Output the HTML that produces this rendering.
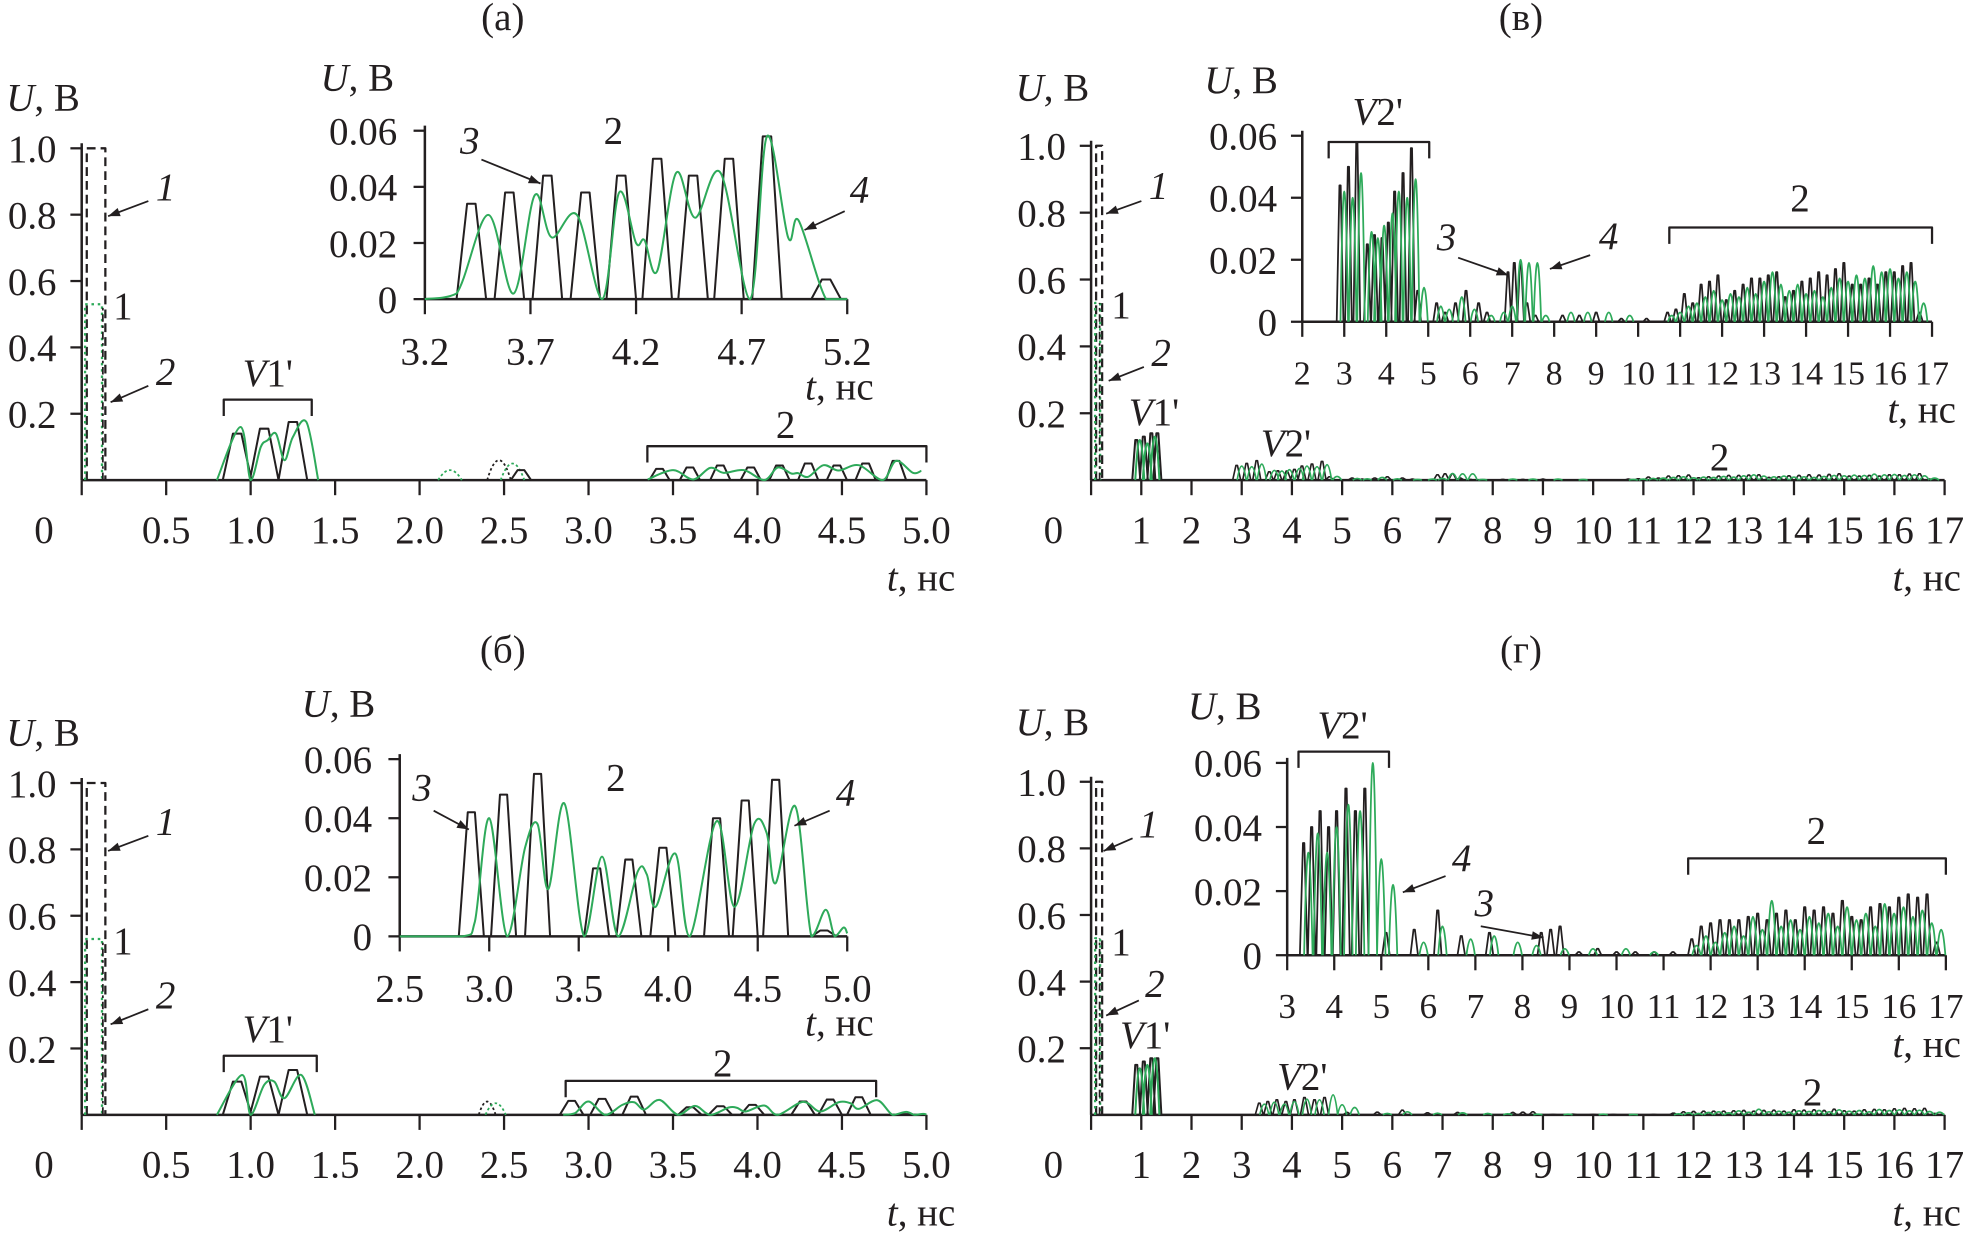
<!DOCTYPE html>
<html><head><meta charset="utf-8">
<style>
html,body{margin:0;padding:0;background:#fff;}
svg{display:block;}
text{font-family:"Liberation Serif","DejaVu Serif",serif;fill:#231f20;}
</style></head>
<body>
<svg id="fig" width="1971" height="1238" viewBox="0 0 1568 985" preserveAspectRatio="none" xmlns="http://www.w3.org/2000/svg"></svg>
<script>
// ---------- DATA ----------
const aBlackT=[3.42,3.6,3.78,3.96,4.13,4.3,4.47,4.64,4.82,5.1];
const aBlackV=[0.034,0.038,0.044,0.038,0.044,0.05,0.044,0.05,0.058,0.007];
const aGreenT=[3.2,3.35,3.5,3.62,3.72,3.8,3.92,4.04,4.12,4.2,4.24,4.3,4.39,4.48,4.6,4.74,4.82,4.92,4.97,5.1,5.2];
const aGreenV=[0,0.002,0.03,0.002,0.037,0.022,0.03,0,0.038,0.02,0.021,0.01,0.045,0.029,0.045,0,0.058,0.022,0.028,0,0];
const aV1BlackT=[0.92,1.08,1.25];
const aV1BlackV=[0.14,0.155,0.175];
const aV1GreenT=[0.8,0.94,1.0,1.06,1.1,1.15,1.2,1.25,1.33,1.4];
const aV1GreenV=[0,0.16,0,0.1,0.12,0.14,0.06,0.13,0.175,0];
const bBlackT=[2.9,3.08,3.27,3.6,3.78,3.97,4.27,4.43,4.6,4.87];
const bBlackV=[0.042,0.048,0.055,0.023,0.026,0.03,0.04,0.046,0.053,0.002];
const bGreenT=[2.5,2.85,2.92,3.0,3.1,3.2,3.27,3.33,3.42,3.53,3.63,3.72,3.83,3.88,3.93,4.04,4.12,4.27,4.37,4.48,4.55,4.6,4.71,4.8,4.88,4.93,4.98,5.0];
const bGreenV=[0,0,0.005,0.04,0,0.03,0.038,0.016,0.045,0,0.027,0,0.022,0.021,0.01,0.028,0,0.039,0.01,0.038,0.035,0.018,0.044,0,0.009,0,0.003,0.001];
const bV1BlackT=[0.92,1.08,1.25];
const bV1BlackV=[0.1,0.115,0.135];
const bV1GreenT=[0.8,0.95,1.0,1.08,1.14,1.2,1.3,1.38];
const bV1GreenV=[0,0.12,0,0.09,0.1,0.05,0.12,0];
const vBlackT=[2.9,3.1,3.3,3.55,3.72,3.9,4.05,4.2,4.4,4.6,4.75,5.2,5.4,5.65,5.9,6.2,6.4,6.9,7.05,7.2,7.35,7.55,8.2,8.6,9.0,9.6,10.2,10.7,10.9,11.1,11.3,11.5,11.7,11.9,12.1,12.3,12.5,12.7,12.9,13.1,13.3,13.5,13.7,13.9,14.1,14.3,14.5,14.7,14.9,15.1,15.3,15.5,15.7,15.9,16.1,16.3,16.5,16.7];
const vBlackV=[0.044,0.05,0.058,0.025,0.028,0.027,0.032,0.042,0.048,0.056,0.01,0.006,0.003,0.006,0.01,0.006,0.003,0.016,0.019,0.019,0.006,0.002,0.002,0.002,0.003,0.001,0.001,0.003,0.004,0.009,0.006,0.012,0.013,0.015,0.007,0.01,0.012,0.014,0.014,0.015,0.016,0.008,0.01,0.013,0.014,0.016,0.015,0.017,0.019,0.012,0.012,0.014,0.012,0.016,0.016,0.018,0.019,0.003];
const vGreenT=[3.0,3.2,3.4,3.65,3.8,3.95,4.15,4.3,4.5,4.7,4.9,5.3,5.5,5.8,6.1,6.5,6.8,7.0,7.2,7.4,7.6,7.8,8.4,8.8,9.3,9.8,10.8,11.0,11.2,11.4,11.6,11.8,12.0,12.2,12.4,12.6,12.8,13.0,13.2,13.4,13.6,13.8,14.0,14.2,14.4,14.6,14.8,15.0,15.2,15.4,15.6,15.8,16.0,16.2,16.4,16.6,16.8];
const vGreenV=[0.042,0.04,0.048,0.029,0.027,0.031,0.035,0.042,0.04,0.046,0.011,0.005,0.004,0.008,0.004,0.002,0.003,0.005,0.02,0.019,0.019,0.002,0.003,0.003,0.003,0.002,0.002,0.003,0.005,0.006,0.008,0.01,0.007,0.009,0.008,0.011,0.009,0.013,0.016,0.012,0.01,0.012,0.009,0.01,0.008,0.011,0.014,0.013,0.015,0.014,0.018,0.016,0.017,0.014,0.016,0.013,0.006];
const vV1BlackT=[0.9,1.05,1.2,1.32];
const vV1BlackV=[0.12,0.13,0.14,0.14];
const vV1GreenT=[0.97,1.12,1.27];
const vV1GreenV=[0.12,0.11,0.13];
const gBlackT=[3.35,3.52,3.7,3.88,4.05,4.25,4.45,4.65,5.1,5.7,6.2,6.7,7.3,8.4,8.6,8.8,9.2,9.6,10.0,10.4,10.8,11.2,11.6,11.8,12.0,12.2,12.4,12.6,12.8,13.0,13.2,13.4,13.6,13.8,14.0,14.2,14.4,14.6,14.8,15.0,15.2,15.4,15.6,15.8,16.0,16.2,16.4,16.6,16.8];
const gBlackV=[0.035,0.04,0.045,0.04,0.045,0.052,0.045,0.052,0.007,0.008,0.014,0.006,0.007,0.007,0.008,0.009,0.001,0.002,0.001,0.001,0.001,0.001,0.005,0.009,0.01,0.011,0.011,0.011,0.012,0.013,0.011,0.013,0.014,0.011,0.015,0.014,0.015,0.013,0.017,0.012,0.011,0.015,0.016,0.015,0.018,0.019,0.018,0.019,0.004];
const gGreenT=[3.45,3.65,3.85,4.05,4.3,4.55,4.82,5.0,5.25,5.9,6.3,6.9,7.4,7.9,8.3,8.9,9.5,10.2,10.8,11.7,11.9,12.1,12.3,12.5,12.7,12.9,13.1,13.3,13.5,13.7,13.9,14.1,14.3,14.5,14.7,14.9,15.1,15.3,15.5,15.7,15.9,16.1,16.3,16.5,16.7,16.9];
const gGreenV=[0.032,0.038,0.032,0.04,0.047,0.045,0.06,0.03,0.022,0.004,0.009,0.005,0.006,0.004,0.003,0.002,0.002,0.002,0.001,0.003,0.006,0.004,0.007,0.009,0.006,0.012,0.008,0.017,0.009,0.011,0.008,0.012,0.01,0.013,0.009,0.015,0.011,0.013,0.009,0.016,0.013,0.015,0.012,0.014,0.01,0.008];
const gV1BlackT=[0.9,1.05,1.2,1.32];
const gV1BlackV=[0.15,0.16,0.17,0.17];
const gV1GreenT=[0.97,1.12,1.27];
const gV1GreenV=[0.14,0.15,0.17];
const pulse1V=1.0, pulse2V=0.53;
const mainTicksA=["0","0.5","1.0","1.5","2.0","2.5","3.0","3.5","4.0","4.5","5.0"];
const mainYTicks=["0.2","0.4","0.6","0.8","1.0"];
const insetYTicks=["0","0.02","0.04","0.06"];
const insetTicksA=["3.2","3.7","4.2","4.7","5.2"];
const insetTicksB=["2.5","3.0","3.5","4.0","4.5","5.0"];

// ---------- DRAW ----------
const NS="http://www.w3.org/2000/svg";
const svg=document.getElementById('fig');
const BLACK="#231f20", GREEN="#2eaa5a";
const FS=31;
function add(tag,attrs,name,parent){
  const el=document.createElementNS(NS,tag);
  for(const k in attrs) el.setAttribute(k,attrs[k]);
  
  
  (parent||svg).appendChild(el);return el;
}
function txt(x,y,s,name,opt){
  opt=opt||{};
  const t=add('text',{x:x,y:y,'font-size':opt.size||FS,'text-anchor':opt.anchor||'start','font-style':opt.italic?'italic':'normal'},name);
  t.innerHTML=s;return t;
}
function axisFn(P){
  return {sx:t=>P.x0+(t-P.t0)/(P.t1-P.t0)*(P.x1-P.x0), sy:v=>P.yb-v/P.vmax*(P.yb-P.yt)};
}
function trapPath(P,T,V,bw,tw){
  const a=axisFn(P);let d="";
  T.forEach((t,i)=>{d+=`M${a.sx(t-bw)},${a.sy(0)}L${a.sx(t-tw)},${a.sy(V[i])}L${a.sx(t+tw)},${a.sy(V[i])}L${a.sx(t+bw)},${a.sy(0)}`;});
  return d;
}
function spikePath(P,T,V,bw){
  const a=axisFn(P);let d="";
  T.forEach((t,i)=>{d+=`M${a.sx(t-bw)},${a.sy(0)}Q${a.sx(t)},${a.sy(2*V[i])} ${a.sx(t+bw)},${a.sy(0)}`;});
  return d;
}
function smoothPath(P,T,V){
  const a=axisFn(P);const p=T.map((t,i)=>[a.sx(t),a.sy(V[i])]);
  let d=`M${p[0][0]},${p[0][1]}`;
  for(let i=0;i<p.length-1;i++){
    const p0=p[i-1]||p[i],p1=p[i],p2=p[i+1],p3=p[i+2]||p2;
    d+=`C${p1[0]+(p2[0]-p0[0])/6},${Math.min(P.yb,p1[1]+(p2[1]-p0[1])/6)} ${p2[0]-(p3[0]-p1[0])/6},${Math.min(P.yb,p2[1]-(p3[1]-p1[1])/6)} ${p2[0]},${p2[1]}`;
  }
  return d;
}
function line(d,color,name,w,dash){
  const o={d:d,fill:'none',stroke:color,'stroke-width':w||1.6,'stroke-linejoin':'round'};
  if(dash)o['stroke-dasharray']=dash;
  add('path',o,name);
}
function axes(P,labels,name,tickStep,labelY,xLabOff,lsize){
  const a=axisFn(P);
  line(`M${P.x0},${P.yb}L${P.x1},${P.yb}`,BLACK,name+'-x-axis',2);
  line(`M${P.x0},${P.yb}L${P.x0},${P.yt-4}`,BLACK,name+'-y-axis',2);
  labels.forEach((s,i)=>{
    const t=P.t0+i*tickStep;const x=a.sx(t);
    line(`M${x},${P.yb}L${x},${P.yb+12}`,BLACK,name+'-x-tick',1.8);
    txt(x+((i===0&&xLabOff)?xLabOff:0),labelY,s,name+'-x-tick-label',{anchor:'middle',size:lsize});
  });
}
function yaxis(P,labels,vals,name,lx){
  const a=axisFn(P);
  labels.forEach((s,i)=>{
    const y=a.sy(vals[i]);
    line(`M${P.x0-9},${y}L${P.x0},${y}`,BLACK,name+'-y-tick',1.8);
    txt(lx,y+11,s,name+'-y-tick-label',{anchor:'end'});
  });
}
function bracket(x1,x2,y,name){line(`M${x1},${y+13}L${x1},${y}L${x2},${y}L${x2},${y+13}`,BLACK,name,1.8);}
function arrow(x1,y1,x2,y2,name){
  line(`M${x1},${y1}L${x2},${y2}`,BLACK,name,1.4);
  const ang=Math.atan2(y2-y1,x2-x1),L=10;
  const p=`M${x2},${y2}L${x2-L*Math.cos(ang-0.35)},${y2-L*Math.sin(ang-0.35)}L${x2-L*Math.cos(ang+0.35)},${y2-L*Math.sin(ang+0.35)}Z`;
  add('path',{d:p,fill:BLACK},name+'-head');
}
function pulses(P,w1a,w1b,w2a,w2b,name){
  const a=axisFn(P);
  line(`M${a.sx(w1a)},${a.sy(0)}L${a.sx(w1a)},${a.sy(pulse1V)}L${a.sx(w1b)},${a.sy(pulse1V)}L${a.sx(w1b)},${a.sy(0)}`,BLACK,name+'-curve-1',1.8,'7,4');
  line(`M${a.sx(w2a)},${a.sy(0)}L${a.sx(w2a)},${a.sy(pulse2V)}L${a.sx(w2b)},${a.sy(pulse2V)}L${a.sx(w2b)},${a.sy(0)}`,GREEN,name+'-green-pulse',1.8,'2,3');
  line(`M${a.sx(w1b)-2},${a.sy(0)}L${a.sx(w1b)-2},${a.sy(pulse2V)}`,BLACK,name+'-curve-2',1.4,'6,3,2,3');
}

const PA={x0:65,x1:737,t0:0,t1:5,yb:382,yt:118,vmax:1};
const PAi={x0:338,x1:674,t0:3.2,t1:5.2,yb:238,yt:104,vmax:0.06};
const PB={x0:65,x1:737,t0:0,t1:5,yb:887,yt:623,vmax:1};
const PBi={x0:318,x1:674,t0:2.5,t1:5.0,yb:745,yt:604,vmax:0.06};
const PV={x0:868,x1:1547,t0:0,t1:17,yb:382,yt:116,vmax:1};
const PVi={x0:1036,x1:1537,t0:2,t1:17,yb:256,yt:108,vmax:0.06};
const PG={x0:868,x1:1547,t0:0,t1:17,yb:887,yt:622,vmax:1};
const PGi={x0:1024,x1:1548,t0:3,t1:17,yb:760,yt:607,vmax:0.06};

function mainPanel(P,name,labels,step,labY){
  axes(P,labels,name,step,labY,-30);
  yaxis(P,mainYTicks,[0.2,0.4,0.6,0.8,1.0],name,P.x0-20);
}
function insetPanel(P,name,labels,step,labY,lx,lsize){
  axes(P,labels,name,step,labY,0,lsize);
  yaxis(P,insetYTicks,[0,0.02,0.04,0.06],name,lx);
}
const intLabels=(a,b)=>{const r=[];for(let i=a;i<=b;i++)r.push(String(i));return r;};

// (a)
txt(400,24,"(а)","title-a",{anchor:'middle'});
mainPanel(PA,'panel-a',mainTicksA,0.5,432);
txt(5,88,"<tspan font-style='italic'>U</tspan>, В","panel-a-y-title");
txt(760,470,"<tspan font-style='italic'>t</tspan>, нс","panel-a-x-title",{anchor:'end'});
pulses(PA,0.03,0.14,0.02,0.12,'panel-a');
line(trapPath(PA,aV1BlackT,aV1BlackV,0.085,0.025),BLACK,'panel-a-v1-black');
line(smoothPath(PA,aV1GreenT,aV1GreenV),GREEN,'panel-a-v1-green');
line(trapPath(PA,aBlackT.slice(0,9),aBlackV.slice(0,9),0.06,0.02),BLACK,'panel-a-region2-black');
line(smoothPath(PA,aGreenT.slice(1,19),aGreenV.slice(1,19)),GREEN,'panel-a-region2-green');
line(spikePath(PA,[2.47],[0.06],0.07),BLACK,'panel-a-dotted-black',1.4,'2,2');
line(spikePath(PA,[2.18,2.55],[0.03,0.05],0.07),GREEN,'panel-a-dotted-green',1.4,'2,2');
line(trapPath(PA,[2.6],[0.03],0.06,0.02),BLACK,'panel-a-small-black');
txt(124,159,"1","label-1-a",{italic:true});arrow(118,160,86,172,'arrow-1-a');
txt(90,254,"1","label-1-green-a");
txt(124,306,"2","label-2-a",{italic:true});arrow(118,307,88,320,'arrow-2-a');
bracket(178,248,318,'bracket-v1-a');txt(193,307,"<tspan font-style='italic'>V</tspan>1'","label-v1-a");
bracket(515,737,355,'bracket-2-a');txt(625,348,"2","label-2-region-a",{anchor:'middle'});
insetPanel(PAi,'inset-a',insetTicksA,0.5,290,316);
txt(255,72,"<tspan font-style='italic'>U</tspan>, В","inset-a-y-title");
txt(695,318,"<tspan font-style='italic'>t</tspan>, нс","inset-a-x-title",{anchor:'end'});
line(trapPath(PAi,aBlackT,aBlackV,0.07,0.02),BLACK,'inset-a-curve-3');
line(smoothPath(PAi,aGreenT,aGreenV),GREEN,'inset-a-curve-4');
txt(366,122,"3","label-3-a",{italic:true});arrow(383,127,430,146,'arrow-3-a');
txt(488,114,"2","label-2-inset-a",{anchor:'middle'});
txt(676,161,"4","label-4-a",{italic:true});arrow(672,168,640,183,'arrow-4-a');

// (б)
txt(400,527,"(б)","title-b",{anchor:'middle'});
mainPanel(PB,'panel-b',mainTicksA,0.5,937);
txt(5,593,"<tspan font-style='italic'>U</tspan>, В","panel-b-y-title");
txt(760,975,"<tspan font-style='italic'>t</tspan>, нс","panel-b-x-title",{anchor:'end'});
pulses(PB,0.03,0.14,0.02,0.12,'panel-b');
line(trapPath(PB,bV1BlackT,bV1BlackV,0.085,0.025),BLACK,'panel-b-v1-black');
line(smoothPath(PB,bV1GreenT,bV1GreenV),GREEN,'panel-b-v1-green');
line(trapPath(PB,bBlackT,bBlackV,0.07,0.02),BLACK,'panel-b-region2-black');
line(smoothPath(PB,bGreenT.slice(1),bGreenV.slice(1)),GREEN,'panel-b-region2-green');
line(spikePath(PB,[2.4],[0.04],0.05),BLACK,'panel-b-dotted-black',1.4,'2,2');
line(spikePath(PB,[2.45],[0.035],0.06),GREEN,'panel-b-dotted-green',1.4,'2,2');
txt(124,664,"1","label-1-b",{italic:true});arrow(118,665,86,677,'arrow-1-b');
txt(90,759,"1","label-1-green-b");
txt(124,802,"2","label-2-b",{italic:true});arrow(118,803,88,815,'arrow-2-b');
bracket(178,252,840,'bracket-v1-b');txt(193,829,"<tspan font-style='italic'>V</tspan>1'","label-v1-b");
bracket(450,697,860,'bracket-2-b');txt(575,856,"2","label-2-region-b",{anchor:'middle'});
insetPanel(PBi,'inset-b',insetTicksB,0.5,797,296);
txt(240,570,"<tspan font-style='italic'>U</tspan>, В","inset-b-y-title");
txt(695,824,"<tspan font-style='italic'>t</tspan>, нс","inset-b-x-title",{anchor:'end'});
line(trapPath(PBi,bBlackT,bBlackV,0.07,0.02),BLACK,'inset-b-curve-3');
line(smoothPath(PBi,bGreenT,bGreenV),GREEN,'inset-b-curve-4');
txt(328,637,"3","label-3-b",{italic:true});arrow(345,645,373,660,'arrow-3-b');
txt(490,629,"2","label-2-inset-b",{anchor:'middle'});
txt(665,641,"4","label-4-b",{italic:true});arrow(660,645,632,657,'arrow-4-b');

// (в)
txt(1210,24,"(в)","title-v",{anchor:'middle'});
mainPanel(PV,'panel-v',intLabels(0,17),1,432);
txt(808,80,"<tspan font-style='italic'>U</tspan>, В","panel-v-y-title");
txt(1560,470,"<tspan font-style='italic'>t</tspan>, нс","panel-v-x-title",{anchor:'end'});
pulses(PV,0.1,0.22,0.08,0.18,'panel-v');
line(trapPath(PV,vV1BlackT,vV1BlackV,0.08,0.02),BLACK,'panel-v-v1-black');
line(spikePath(PV,vV1GreenT,vV1GreenV,0.09),GREEN,'panel-v-v1-green');
line(trapPath(PV,vBlackT,vBlackV,0.08,0.015),BLACK,'panel-v-black',1.3);
line(spikePath(PV,vGreenT,vGreenV,0.09),GREEN,'panel-v-green',1.3);
txt(914,158,"1","label-1-v",{italic:true});arrow(908,160,880,170,'arrow-1-v');
txt(884,253,"1","label-1-green-v");
txt(916,291,"2","label-2-v",{italic:true});arrow(910,292,882,303,'arrow-2-v');
txt(898,338,"<tspan font-style='italic'>V</tspan>1'","label-v1-v");
txt(1003,363,"<tspan font-style='italic'>V</tspan>2'","label-v2-v");
txt(1368,374,"2","label-2-region-v",{anchor:'middle'});
insetPanel(PVi,'inset-v',intLabels(2,17),1,306,1016,27);
txt(958,74,"<tspan font-style='italic'>U</tspan>, В","inset-v-y-title");
txt(1556,336,"<tspan font-style='italic'>t</tspan>, нс","inset-v-x-title",{anchor:'end'});
line(trapPath(PVi,vBlackT,vBlackV,0.08,0.015),BLACK,'inset-v-curve-3',1.4);
line(spikePath(PVi,vGreenT,vGreenV,0.09),GREEN,'inset-v-curve-4',1.4);
bracket(1057,1137,113,'bracket-v2-v');txt(1076,99,"<tspan font-style='italic'>V</tspan>2'","label-v2-inset-v");
txt(1143,199,"3","label-3-v",{italic:true});arrow(1160,205,1200,219,'arrow-3-v');
txt(1272,198,"4","label-4-v",{italic:true});arrow(1265,203,1233,214,'arrow-4-v');
bracket(1328,1537,181,'bracket-2-v');txt(1432,168,"2","label-2-inset-v",{anchor:'middle'});

// (г)
txt(1210,527,"(г)","title-g",{anchor:'middle'});
mainPanel(PG,'panel-g',intLabels(0,17),1,937);
txt(808,585,"<tspan font-style='italic'>U</tspan>, В","panel-g-y-title");
txt(1560,975,"<tspan font-style='italic'>t</tspan>, нс","panel-g-x-title",{anchor:'end'});
pulses(PG,0.1,0.22,0.08,0.18,'panel-g');
line(trapPath(PG,gV1BlackT,gV1BlackV,0.08,0.02),BLACK,'panel-g-v1-black');
line(spikePath(PG,gV1GreenT,gV1GreenV,0.09),GREEN,'panel-g-v1-green');
line(trapPath(PG,gBlackT,gBlackV,0.08,0.015),BLACK,'panel-g-black',1.3);
line(spikePath(PG,gGreenT,gGreenV,0.09),GREEN,'panel-g-green',1.3);
txt(906,666,"1","label-1-g",{italic:true});arrow(901,667,878,677,'arrow-1-g');
txt(884,760,"1","label-1-green-g");
txt(911,793,"2","label-2-g",{italic:true});arrow(906,796,880,808,'arrow-2-g');
txt(891,834,"<tspan font-style='italic'>V</tspan>1'","label-v1-g");
txt(1016,867,"<tspan font-style='italic'>V</tspan>2'","label-v2-g");
txt(1442,879,"2","label-2-region-g",{anchor:'middle'});
insetPanel(PGi,'inset-g',intLabels(3,17),1,810,1004,28);
txt(945,572,"<tspan font-style='italic'>U</tspan>, В","inset-g-y-title");
txt(1560,841,"<tspan font-style='italic'>t</tspan>, нс","inset-g-x-title",{anchor:'end'});
line(trapPath(PGi,gBlackT,gBlackV,0.08,0.015),BLACK,'inset-g-curve-3',1.4);
line(spikePath(PGi,gGreenT,gGreenV,0.09),GREEN,'inset-g-curve-4',1.4);
bracket(1033,1105,598,'bracket-v2-g');txt(1048,587,"<tspan font-style='italic'>V</tspan>2'","label-v2-inset-g");
txt(1155,693,"4","label-4-g",{italic:true});arrow(1150,697,1116,710,'arrow-4-g');
txt(1173,729,"3","label-3-g",{italic:true});arrow(1178,737,1228,746,'arrow-3-g');
bracket(1343,1548,683,'bracket-2-g');txt(1445,671,"2","label-2-inset-g",{anchor:'middle'});
</script>
</body></html>
